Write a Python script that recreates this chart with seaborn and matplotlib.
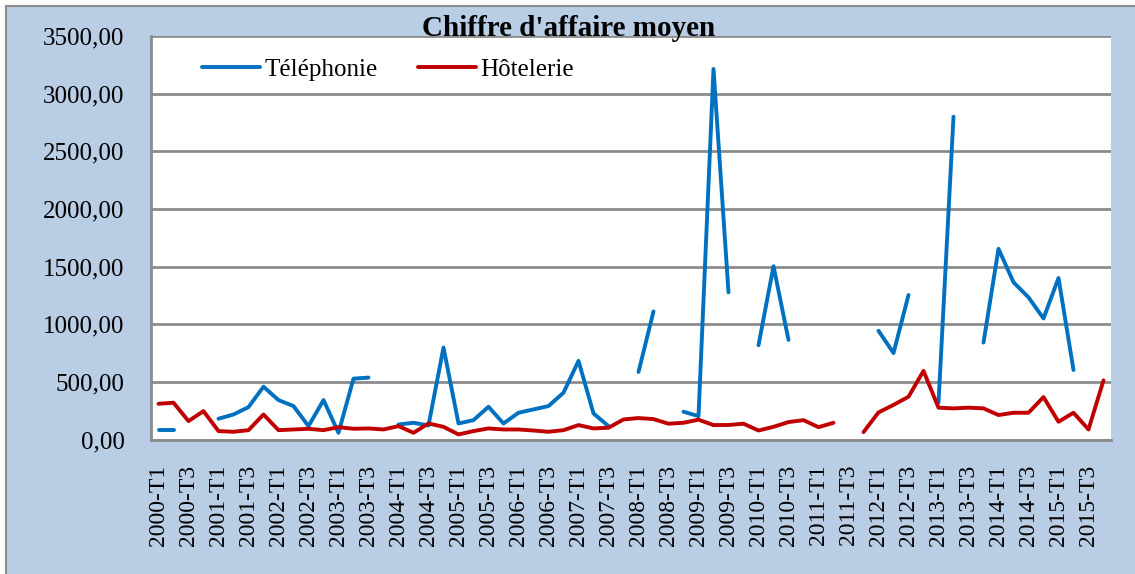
import numpy as np
import pandas as pd
import matplotlib
matplotlib.use("Agg")
import matplotlib.pyplot as plt
from matplotlib.patches import Rectangle
from matplotlib.ticker import FuncFormatter, FixedLocator
import seaborn as sns

# Data: quarterly averages 2000-T1 .. 2015-T4 (NaN = missing quarter)
years = list(range(2000, 2016))
quarters = [f"{y}-T{q}" for y in years for q in range(1, 5)]
nan = np.nan
telephonie = [85, 85, nan, nan, 180, 217, 281, 458, 342, 290, 116, 342, 58, 528, 537, nan,
              130, 145, 122, 798, 139, 168, 284, 139, 232, 261, 290, 406, 682, 226, 116, nan,
              586, 1111, nan, 241, 203, 3214, 1277, nan, 818, 1503, 864, nan, nan, nan, nan, nan,
              943, 750, 1253, nan, 320, 2800, nan, 841, 1654, 1364, 1233, 1050, 1401, 603, nan, nan]
hotelerie = [310, 319, 160, 246, 73, 67, 81, 217, 81, 87, 93, 81, 107, 93, 96, 87,
             116, 58, 139, 110, 44, 73, 96, 87, 87, 78, 67, 81, 125, 96, 102, 174,
             186, 177, 137, 145, 172, 125, 126, 137, 78, 110, 151, 168, 107, 145, nan, 64,
             235, 300, 371, 595, 276, 270, 276, 270, 212, 232, 232, 368, 154, 232, 87, 513]
series = {"Téléphonie": telephonie, "Hôtelerie": hotelerie}
colors = {"Téléphonie": "#0070C0", "Hôtelerie": "#C00000"}

# long table, one unit per unbroken stretch so gaps stay open
rows = []
for name, vals in series.items():
    seg = 0
    for i, v in enumerate(vals):
        if np.isnan(v):
            seg += 1
            continue
        rows.append({"pos": i, "valeur": v, "serie": name, "seg": f"{name}-{seg}"})
df = pd.DataFrame(rows)

sns.set_style("white")
plt.rcParams["font.family"] = ["Liberation Serif", "DejaVu Serif"]
plt.rcParams["text.color"] = "black"

fig = plt.figure(figsize=(11.35, 5.74), dpi=100)
fig.patch.set_facecolor("white")
fig.add_artist(Rectangle((6 / 1135, -0.5), 2.0, 1.5 - 6 / 574, transform=fig.transFigure,
                         facecolor="#B9CDE5", edgecolor="#8C8C8C", linewidth=1.5, zorder=-5))
ax = fig.add_axes([151 / 1135, 1 - 439.5 / 574, 960 / 1135, 403.5 / 574])
ax.set_facecolor("white")

sns.lineplot(data=df, x="pos", y="valeur", hue="serie", units="seg", estimator=None,
             palette=colors, linewidth=2.8, sort=False, ax=ax, zorder=3)

ax.set_xlim(-0.5, len(quarters) - 0.5)
ax.set_ylim(0, 3500)
ax.set_yticks(np.arange(0, 3501, 500))
ax.yaxis.set_major_formatter(FuncFormatter(lambda v, p: f"{v:.2f}".replace(".", ",")))
ax.set_xticks(range(0, len(quarters), 2))
ax.set_xticklabels(quarters[::2], rotation=90)
ax.xaxis.set_minor_locator(FixedLocator(np.arange(-0.5, len(quarters), 1)))
ax.tick_params(axis="x", which="major", length=0, pad=18, labelsize=17, labelcolor="black")
ax.tick_params(axis="x", which="minor", length=6, width=2, color="#8C8C8C", direction="out")
ax.tick_params(axis="y", length=7, width=2, color="#8C8C8C", pad=12, labelsize=18,
               labelcolor="black", direction="out")
ax.set_xlabel("")
ax.set_ylabel("")

ax.grid(axis="y", color="#8C8C8C", linewidth=2, zorder=0)
ax.set_axisbelow(True)
for s in ["top", "right"]:
    ax.spines[s].set_visible(False)
for s in ["left", "bottom"]:
    ax.spines[s].set_color("#8C8C8C")
    ax.spines[s].set_linewidth(2)

handles, labels = ax.get_legend_handles_labels()
ax.legend(handles, labels, loc="upper left", bbox_to_anchor=(0.03, 1.0), ncol=2, frameon=False,
          fontsize=18, handlelength=2.3, handletextpad=0.2, columnspacing=1.6, labelcolor="black")

fig.text(569 / 1135, 1 - 28 / 574, "Chiffre d'affaire moyen", ha="center", va="center",
         fontsize=21, fontweight="bold", color="black")

fig.savefig("out.png", dpi=100)
